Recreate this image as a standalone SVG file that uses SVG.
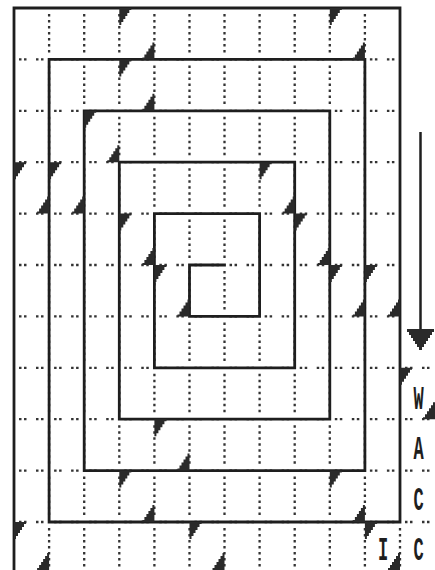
<svg xmlns="http://www.w3.org/2000/svg" width="435" height="570" viewBox="0 0 435 570">
<style>
.h{stroke:#333;stroke-width:2.3;stroke-dasharray:2.5 2.5 2.5 9.5 2.5 2.5 2.5 10.59;fill:none}
.v{stroke:#333;stroke-width:2.3;stroke-dasharray:2.5 3.5 2.5 3.5 2.5 3.5 2.5 3.5 2.5 3.5 2.5 3.5 2.5 12.9;fill:none}
.s{stroke:#1e1e1e;stroke-width:2.8;fill:none;stroke-linejoin:miter;stroke-linecap:square}
.t{fill:#2a2a2a}
.l{font-family:"Liberation Mono",monospace;font-size:17px;font-weight:bold;fill:#1e1e1e;text-anchor:middle}
</style>
<defs>
<path id="tl" class="t" d="M0,0H12V2H10V5H8V8H6V11H4V14H2V17H0Z"/>
<path id="br" class="t" d="M0,0H-12V-2H-10V-5H-8V-8H-6V-11H-4V-14H-2V-17H0Z"/>
</defs>
<rect width="435" height="570" fill="#fff"/>
<g id="grid">
<line class="h" x1="19" y1="59.4" x2="400" y2="59.4"/>
<line class="h" x1="19" y1="110.8" x2="400" y2="110.8"/>
<line class="h" x1="19" y1="162.2" x2="400" y2="162.2"/>
<line class="h" x1="19" y1="213.6" x2="400" y2="213.6"/>
<line class="h" x1="19" y1="265" x2="400" y2="265"/>
<line class="h" x1="19" y1="316.4" x2="400" y2="316.4"/>
<line class="h" x1="19" y1="367.8" x2="435" y2="367.8"/>
<line class="h" x1="19" y1="419.2" x2="435" y2="419.2"/>
<line class="h" x1="19" y1="470.6" x2="435" y2="470.6"/>
<line class="h" x1="19" y1="522" x2="435" y2="522"/>
<line class="v" x1="49.1" y1="14" x2="49.1" y2="570"/>
<line class="v" x1="84.2" y1="14" x2="84.2" y2="570"/>
<line class="v" x1="119.3" y1="14" x2="119.3" y2="570"/>
<line class="v" x1="154.4" y1="14" x2="154.4" y2="570"/>
<line class="v" x1="189.5" y1="14" x2="189.5" y2="570"/>
<line class="v" x1="224.5" y1="14" x2="224.5" y2="570"/>
<line class="v" x1="259.6" y1="14" x2="259.6" y2="570"/>
<line class="v" x1="294.7" y1="14" x2="294.7" y2="570"/>
<line class="v" x1="329.8" y1="14" x2="329.8" y2="570"/>
<line class="v" x1="364.9" y1="14" x2="364.9" y2="570"/>
<line class="v" x1="400" y1="528" x2="400" y2="570"/>
</g>
<g id="spiral">
<path class="s" d="M14,572 V8 H400 V522 H49.1 V59.4 H364.9 V470.6 H84.2 V110.8 H329.8 V419.2 H119.3 V162.2 H294.7 V367.8 H154.4 V213.6 H259.6 V316.4 H189.5 V265 H224.5"/>
</g>
<g id="marks">
<use href="#tl" x="119.3" y="8"/>
<use href="#tl" x="329.8" y="8"/>
<use href="#tl" x="119.3" y="59.4"/>
<use href="#tl" x="84.2" y="110.8"/>
<use href="#tl" x="14" y="162.2"/>
<use href="#tl" x="49.1" y="162.2"/>
<use href="#tl" x="259.6" y="162.2"/>
<use href="#tl" x="119.3" y="213.6"/>
<use href="#tl" x="294.7" y="213.6"/>
<use href="#tl" x="154.4" y="265"/>
<use href="#tl" x="329.8" y="265"/>
<use href="#tl" x="364.9" y="265"/>
<use href="#tl" x="400" y="367.8"/>
<use href="#tl" x="154.4" y="419.2"/>
<use href="#tl" x="119.3" y="470.6"/>
<use href="#tl" x="329.8" y="470.6"/>
<use href="#tl" x="14" y="522"/>
<use href="#tl" x="189.5" y="522"/>
<use href="#tl" x="364.9" y="522"/>
<use href="#br" x="154.4" y="59.4"/>
<use href="#br" x="364.9" y="59.4"/>
<use href="#br" x="154.4" y="110.8"/>
<use href="#br" x="119.3" y="162.2"/>
<use href="#br" x="49.1" y="213.6"/>
<use href="#br" x="84.2" y="213.6"/>
<use href="#br" x="294.7" y="213.6"/>
<use href="#br" x="154.4" y="265"/>
<use href="#br" x="329.8" y="265"/>
<use href="#br" x="189.5" y="316.4"/>
<use href="#br" x="364.9" y="316.4"/>
<use href="#br" x="400" y="316.4"/>
<use href="#br" x="435" y="419.2"/>
<use href="#br" x="189.5" y="470.6"/>
<use href="#br" x="154.4" y="522"/>
<use href="#br" x="364.9" y="522"/>
<use href="#br" x="49.1" y="570"/>
<use href="#br" x="224.5" y="570"/>
<use href="#br" x="400" y="570"/>
</g>
<g id="arrow">
<line x1="420.5" y1="132" x2="420.5" y2="332" stroke="#1e1e1e" stroke-width="2.5"/>
<path class="t" d="M407,329H434V332H432V335H430V338H428V341H426V344H424V347H422V350H419V347H417V344H415V341H413V338H411V335H409V332H407Z"/>
</g>
<g id="labels">
<text class="l" transform="translate(418.5,409) scale(1,2)">W</text>
<text class="l" transform="translate(418.5,459) scale(1,2)">A</text>
<text class="l" transform="translate(418.5,510) scale(1,2)">C</text>
<text class="l" transform="translate(418.5,560) scale(1,2)">C</text>
<text class="l" transform="translate(383,560) scale(1,2)">I</text>
</g>
</svg>
